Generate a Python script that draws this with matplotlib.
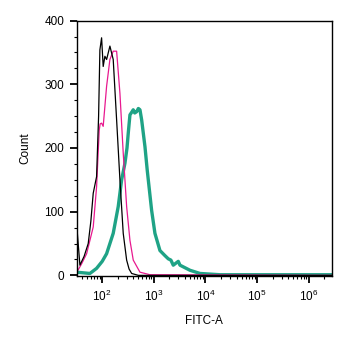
import numpy as np
import matplotlib.pyplot as plt
from matplotlib.ticker import LogLocator, MultipleLocator, FixedLocator, NullFormatter

plt.rcParams['font.family'] = ['Liberation Sans', 'DejaVu Sans']

# log10(FITC-A) positions and counts
black_logx = [1.504, 1.568, 1.65, 1.729, 1.78, 1.826, 1.891, 1.93, 1.955, 1.988, 2.019,
              2.052, 2.085, 2.149, 2.213, 2.279, 2.343, 2.407, 2.473, 2.52, 2.57, 2.7, 6.45]
black_count = [81, 16, 30, 50, 85, 129, 155, 250, 354, 373, 328,
               344, 339, 360, 339, 244, 150, 66, 24, 10, 3, 0, 0]

pink_logx = [1.504, 1.53, 1.6, 1.698, 1.826, 1.891, 1.942, 1.96, 1.988, 2.019, 2.085,
             2.149, 2.213, 2.279, 2.343, 2.407, 2.473, 2.537, 2.601, 2.731, 2.924, 6.45]
pink_count = [13, 8, 18, 34, 76, 139, 228, 238, 239, 234, 297,
              339, 352, 352, 286, 192, 108, 55, 24, 5, 1, 0]

teal_logx = [1.504, 1.762, 1.891, 2.0, 2.085, 2.213, 2.310, 2.376, 2.440, 2.48, 2.504,
             2.537, 2.57, 2.601, 2.63, 2.667, 2.70, 2.731, 2.764, 2.828, 2.872, 2.957,
             3.021, 3.118, 3.215, 3.279, 3.33, 3.376, 3.473, 3.506, 3.700, 3.893, 4.281, 6.45]
teal_count = [5, 3, 11, 22, 34, 66, 108, 150, 176, 200, 223,
              252, 256, 260, 255, 257, 262, 260, 244, 202, 165, 102,
              66, 39, 31, 26, 24, 16, 22, 16, 8, 3, 1, 1]

fig = plt.figure(figsize=(3.53, 3.47), dpi=100)
ax = fig.add_axes([0.217, 0.2046, 0.7235, 0.736])

ax.plot(10 ** np.array(teal_logx), teal_count, color='#1fa386', lw=2.4, zorder=1)
ax.plot(10 ** np.array(black_logx), black_count, color='black', lw=0.9, zorder=3)
ax.plot(10 ** np.array(pink_logx), pink_count, color='#e8198f', lw=0.9, zorder=2)

ax.set_xscale('log')
ax.set_xlim(10 ** 1.504, 10 ** 6.45)
ax.set_ylim(-1, 400)

ax.xaxis.set_major_locator(FixedLocator([1e2, 1e3, 1e4, 1e5, 1e6]))
ax.xaxis.set_minor_locator(LogLocator(base=10, subs=np.arange(2, 10), numticks=20))
ax.xaxis.set_minor_formatter(NullFormatter())
ax.yaxis.set_major_locator(MultipleLocator(100))
ax.yaxis.set_minor_locator(MultipleLocator(25))

ax.tick_params(which='major', direction='out', length=5, width=1.3, labelsize=8.5, pad=4)
ax.tick_params(which='minor', direction='out', length=2.5, width=0.8)
for s in ax.spines.values():
    s.set_linewidth(1.0)

ax.set_xlabel('FITC-A', fontsize=8.5, labelpad=8)
ax.set_ylabel('Count', fontsize=8.5, labelpad=9)

fig.savefig('out.png', dpi=100)
